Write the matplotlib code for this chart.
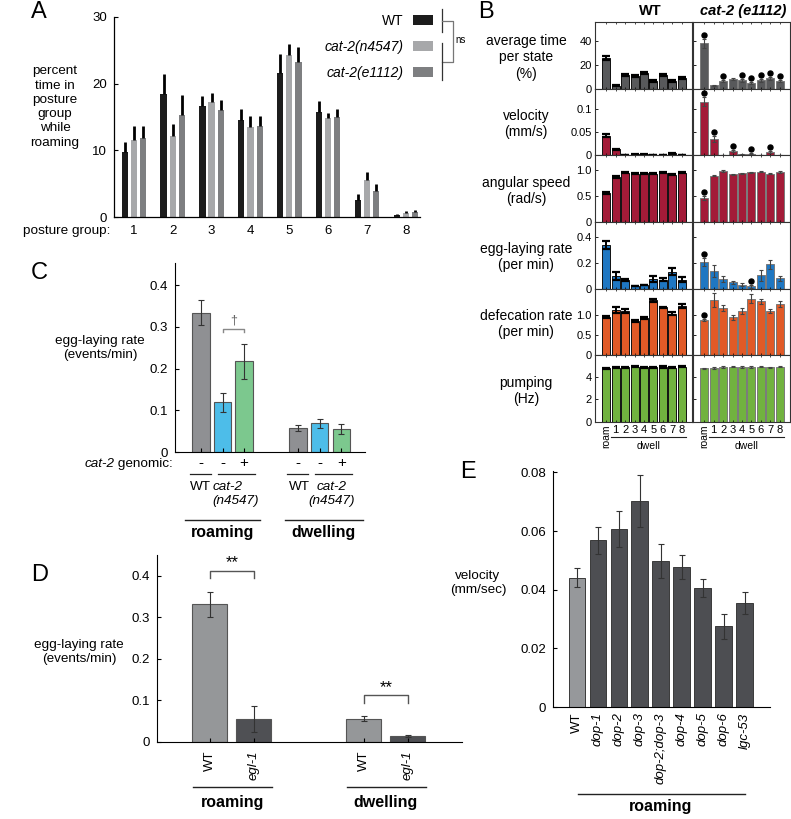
import matplotlib
matplotlib.use('Agg')
import matplotlib.pyplot as plt
import numpy as np
from matplotlib.lines import Line2D
from matplotlib.transforms import blended_transform_factory

plt.rcParams['font.family'] = ['Liberation Sans', 'DejaVu Sans']

# ---------------- DATA ----------------
# Panel A
posture_groups = ['1', '2', '3', '4', '5', '6', '7', '8']
a_strains = ['WT', 'cat-2(n4547)', 'cat-2(e1112)']
a_wt = [9.7, 18.5, 16.6, 14.6, 21.6, 15.7, 2.5, 0.3]
a_wt_err = [1.5, 3.0, 1.5, 1.6, 2.8, 1.7, 1.0, 0.2]
a_n4547 = [11.6, 12.1, 17.3, 13.5, 24.3, 14.8, 5.6, 0.65]
a_n4547_err = [2.0, 1.9, 1.3, 1.6, 1.6, 0.8, 1.2, 0.3]
a_e1112 = [11.9, 15.3, 16.0, 13.6, 23.2, 15.0, 3.9, 0.7]
a_e1112_err = [1.7, 3.0, 1.6, 1.5, 2.3, 1.2, 1.1, 0.3]
a_yticks = [0, 10, 20, 30]

# Panel B
b_states = ['roam', '1', '2', '3', '4', '5', '6', '7', '8']
b_columns = ['WT', 'cat-2 (e1112)']
b_row_labels = ['average time\nper state\n(%)', 'velocity\n(mm/s)', 'angular speed\n(rad/s)',
                'egg-laying rate\n(per min)', 'defecation rate\n(per min)', 'pumping\n(Hz)']

b_time_wt = [25.5, 2.5, 11.5, 11.0, 13.0, 6.5, 11.5, 6.5, 9.2]
b_time_wt_err = [1.8, 0.4, 0.8, 0.8, 0.9, 0.6, 0.8, 0.6, 0.7]
b_time_cat2 = [38.0, 3.0, 6.5, 8.0, 7.2, 4.8, 6.9, 8.6, 6.5]
b_time_cat2_err = [3.5, 0.4, 1.0, 0.7, 1.2, 1.0, 1.0, 1.0, 1.0]
b_time_sig = [1, 0, 1, 0, 1, 1, 1, 1, 1]

b_vel_wt = [0.043, 0.013, 0.001, 0.002, 0.002, 0.001, 0.001, 0.004, 0.001]
b_vel_wt_err = [0.003, 0.001, 0.0003, 0.0003, 0.0003, 0.0003, 0.0003, 0.0005, 0.0003]
b_vel_cat2 = [0.117, 0.036, 0.001, 0.009, 0.002, 0.003, 0.001, 0.008, 0.001]
b_vel_cat2_err = [0.009, 0.007, 0.0003, 0.002, 0.0005, 0.001, 0.0003, 0.002, 0.0003]
b_vel_sig = [1, 1, 0, 1, 0, 1, 0, 1, 0]

b_ang_wt = [0.556, 0.856, 0.94, 0.92, 0.925, 0.92, 0.94, 0.90, 0.94]
b_ang_wt_err = [0.02, 0.015, 0.01, 0.01, 0.01, 0.01, 0.01, 0.01, 0.01]
b_ang_cat2 = [0.46, 0.88, 0.975, 0.91, 0.925, 0.945, 0.955, 0.92, 0.955]
b_ang_cat2_err = [0.04, 0.01, 0.015, 0.01, 0.01, 0.01, 0.01, 0.01, 0.015]
b_ang_sig = [1, 0, 0, 0, 0, 0, 0, 0, 0]

b_egg_wt = [0.338, 0.099, 0.068, 0.021, 0.029, 0.073, 0.068, 0.132, 0.070]
b_egg_wt_err = [0.028, 0.031, 0.010, 0.003, 0.003, 0.021, 0.012, 0.026, 0.018]
b_egg_cat2 = [0.205, 0.135, 0.075, 0.050, 0.031, 0.018, 0.104, 0.190, 0.080]
b_egg_cat2_err = [0.031, 0.045, 0.025, 0.013, 0.010, 0.010, 0.041, 0.035, 0.020]
b_egg_sig = [1, 0, 0, 0, 0, 1, 0, 0, 0]

b_def_wt = [0.96, 1.14, 1.10, 0.856, 0.94, 1.38, 1.20, 1.04, 1.23]
b_def_wt_err = [0.02, 0.08, 0.05, 0.03, 0.03, 0.04, 0.02, 0.04, 0.05]
b_def_cat2 = [0.89, 1.38, 1.18, 0.95, 1.11, 1.415, 1.35, 1.11, 1.28]
b_def_cat2_err = [0.03, 0.17, 0.08, 0.07, 0.08, 0.11, 0.07, 0.06, 0.07]
b_def_sig = [1, 0, 0, 0, 0, 0, 0, 0, 0]

b_pump_wt = [4.76, 4.82, 4.86, 4.90, 4.85, 4.85, 4.87, 4.82, 4.90]
b_pump_wt_err = [0.05, 0.05, 0.05, 0.05, 0.05, 0.05, 0.05, 0.05, 0.05]
b_pump_cat2 = [4.76, 4.78, 4.88, 4.90, 4.87, 4.87, 4.90, 4.84, 4.90]
b_pump_cat2_err = [0.05, 0.10, 0.08, 0.06, 0.06, 0.06, 0.06, 0.06, 0.06]
b_pump_sig = [0, 0, 0, 0, 0, 0, 0, 0, 0]

b_yticks = [[0, 20, 40], [0, 0.05, 0.1], [0, 0.5, 1.0], [0, 0.2, 0.4], [0, 0.5, 1.0], [0, 2, 4]]
b_yticklabels = [['0', '20', '40'], ['0', '0.05', '0.1'], ['0', '0.5', '1.0'],
                 ['0', '0.2', '0.4'], ['0', '0.5', '1.0'], ['0', '2', '4']]

# Panel C
c_groups = ['WT', 'cat-2(n4547)', 'cat-2(n4547) + genomic']
c_genomic = ['-', '-', '+']
c_roam = [0.334, 0.119, 0.217]
c_roam_err = [0.030, 0.023, 0.043]
c_dwell = [0.058, 0.069, 0.055]
c_dwell_err = [0.007, 0.011, 0.013]
c_yticks = [0, 0.1, 0.2, 0.3, 0.4]
c_yticklabels = ['0', '0.1', '0.2', '0.3', '0.4']

# Panel D
d_strains = ['WT', 'egl-1']
d_roam = [0.332, 0.056]
d_roam_err = [0.030, 0.031]
d_dwell = [0.056, 0.015]
d_dwell_err = [0.006, 0.003]

# Panel E
e_strains = ['WT', 'dop-1', 'dop-2', 'dop-3', 'dop-2;dop-3', 'dop-4', 'dop-5', 'dop-6', 'lgc-53']
e_vel = [0.0441, 0.0569, 0.0608, 0.0703, 0.0498, 0.0477, 0.0405, 0.0275, 0.0355]
e_err = [0.0032, 0.0046, 0.0062, 0.0088, 0.0058, 0.0040, 0.0030, 0.0042, 0.0037]
e_yticks = [0, 0.02, 0.04, 0.06, 0.08]
e_yticklabels = ['0', '0.02', '0.04', '0.06', '0.08']

# ---------------- FIGURE ----------------
W, H = 791, 819
fig = plt.figure(figsize=(W / 100, H / 100), dpi=100)


def axpx(l, t, r, b):
    return fig.add_axes([l / W, 1 - b / H, (r - l) / W, (b - t) / H])


def fx(x):
    return x / W


def fy(y):
    return 1 - y / H


def figline(xs, ys, color='black', lw=1.0):
    fig.add_artist(Line2D([fx(v) for v in xs], [fy(v) for v in ys], color=color, lw=lw,
                          transform=fig.transFigure))


def panel_label(s, x, y):
    fig.text(fx(x), fy(y), s, fontsize=17, ha='left', va='center')


TICK = 9
LAB = 9.7

# ---------- Panel A ----------
axA = axpx(114, 17, 420, 217)
xA = np.arange(1, len(posture_groups) + 1)
a_sets = [(a_wt, a_wt_err, '#1c1c1c'), (a_n4547, a_n4547_err, '#a7a8aa'), (a_e1112, a_e1112_err, '#7e7f81')]
a_offsets = [-0.235, 0.0, 0.235]
for (vals, errs, col), off, lab in zip(a_sets, a_offsets, a_strains):
    axA.bar(xA + off, vals, width=0.16, color=col, label=lab)
    axA.errorbar(xA + off, vals, yerr=[np.zeros(len(vals)), errs], fmt='none',
                 ecolor='black', elinewidth=2.0, capsize=0)
axA.set_xlim(0.49, 8.36)
axA.set_ylim(0, 30)
axA.set_yticks(a_yticks)
axA.set_yticklabels([str(v) for v in a_yticks])
axA.set_xticks(xA)
axA.set_xticklabels(posture_groups)
axA.tick_params(axis='x', length=0, pad=6, labelsize=TICK + 0.5)
axA.tick_params(axis='y', direction='in', length=3, pad=5, labelsize=TICK + 0.5)
for s in ['top', 'right']:
    axA.spines[s].set_visible(False)
axA.spines['left'].set_linewidth(0.9)
axA.spines['bottom'].set_linewidth(0.9)
fig.text(fx(110), fy(231), 'posture group:', ha='right', va='center', fontsize=LAB)
fig.text(fx(55), fy(107), 'percent\ntime in\nposture\ngroup\nwhile\nroaming', ha='center',
         va='center', fontsize=LAB, linespacing=1.25)
leg = axA.legend(markerfirst=False, frameon=False, loc='upper right',
                 bbox_to_anchor=(fx(433), fy(14)), bbox_transform=fig.transFigure,
                 handlelength=1.45, handleheight=0.75, labelspacing=0.85, fontsize=10,
                 borderaxespad=0, borderpad=0, handletextpad=0.7)
for t in leg.get_texts()[1:]:
    t.set_fontstyle('italic')
figline([442, 442], [9, 32], color='#333333', lw=0.9)
figline([442, 453, 453, 442], [21, 21, 62, 62], color='#777777', lw=0.9)
figline([442, 442], [43, 80], color='#333333', lw=0.9)
fig.text(fx(455), fy(40), 'ns', fontsize=7, ha='left', va='center')
panel_label('A', 31, 12)

# ---------- Panel B ----------
b_rows = [
    (b_time_wt, b_time_wt_err, b_time_cat2, b_time_cat2_err, b_time_sig, '#58595b', 56),
    (b_vel_wt, b_vel_wt_err, b_vel_cat2, b_vel_cat2_err, b_vel_sig, '#a31b38', 0.145),
    (b_ang_wt, b_ang_wt_err, b_ang_cat2, b_ang_cat2_err, b_ang_sig, '#a31b38', 1.27),
    (b_egg_wt, b_egg_wt_err, b_egg_cat2, b_egg_cat2_err, b_egg_sig, '#1f77c2', 0.515),
    (b_def_wt, b_def_wt_err, b_def_cat2, b_def_cat2_err, b_def_sig, '#e15a27', 1.67),
    (b_pump_wt, b_pump_wt_err, b_pump_cat2, b_pump_cat2_err, b_pump_sig, '#71b23f', 5.9),
]
b_cols_px = [(595, 692), (693, 790)]
b_top, b_bot = 22, 422
rh = (b_bot - b_top) / len(b_rows)
xB = np.arange(len(b_states))
for i, (wv, we, cv, ce, sig, col, ymax) in enumerate(b_rows):
    for j in range(2):
        l, r = b_cols_px[j]
        ax = axpx(l, b_top + i * rh, r, b_top + (i + 1) * rh)
        vals, errs = (wv, we) if j == 0 else (cv, ce)
        edge = '#111111' if j == 0 else '#7a7a7a'
        ax.bar(xB, vals, width=0.85, color=col, edgecolor=edge, linewidth=0.7)
        if j == 0:
            ax.errorbar(xB, vals, yerr=errs, fmt='none', ecolor='black', elinewidth=1.4,
                        capsize=2.6, capthick=1.6)
        else:
            ax.errorbar(xB, vals, yerr=errs, fmt='none', ecolor='#444444', elinewidth=0.8,
                        capsize=1.5, capthick=0.8)
            sig_x = [xx for xx, s in zip(xB, sig) if s]
            sig_y = [v + e + 0.06 * ymax for v, e, s in zip(vals, errs, sig) if s]
            ax.plot(sig_x, sig_y, 'o', color='black', markersize=3.6, linestyle='none')
        ax.set_xlim(-1.2, 9.1)
        ax.set_ylim(0, ymax)
        ax.set_yticks(b_yticks[i])
        if j == 0:
            ax.set_yticklabels(b_yticklabels[i])
        else:
            ax.set_yticklabels([])
        ax.tick_params(axis='y', direction='in', length=2, pad=2.5, labelsize=8, width=0.6)
        ax.set_xticks(xB)
        ax.tick_params(axis='x', direction='in', length=1.5, width=0.5, top=True, bottom=True)
        for s in ax.spines.values():
            s.set_linewidth(0.8)
            s.set_color('#333333')
        if i == len(b_rows) - 1:
            ax.set_xticklabels(b_states)
            ax.tick_params(axis='x', labelsize=8, pad=2)
            lbls = ax.get_xticklabels()
            lbls[0].set_rotation(90)
            lbls[0].set_fontsize(7.5)
            tr = blended_transform_factory(ax.transData, fig.transFigure)
            ax.add_artist(Line2D([0.55, 8.45], [fy(437), fy(437)], color='#222222', lw=0.8,
                                 transform=tr, clip_on=False))
            ax.text(4.5, fy(446), 'dwell', transform=tr, ha='center', va='center', fontsize=7.5)
        else:
            ax.set_xticklabels([])
    fig.text(fx(526), fy(b_top + (i + 0.5) * rh + 2), b_row_labels[i], ha='center', va='center',
             fontsize=10, linespacing=1.2)
fig.text(fx(650), fy(11), b_columns[0], ha='center', va='center', fontsize=10.5, fontweight='bold')
fig.text(fx(743), fy(11), b_columns[1], ha='center', va='center', fontsize=10.5, fontweight='bold',
         style='italic')
panel_label('B', 478, 12)

# ---------- Panel C ----------
axC = axpx(175, 263, 365, 452)
xC_roam = np.array([0.0, 1.0, 2.0])
xC_dwell = np.array([4.5, 5.5, 6.5])
c_colors = ['#8f9093', '#4dbde9', '#7cc88e']
axC.bar(xC_roam, c_roam, width=0.8, color=c_colors, edgecolor='#555555', linewidth=0.8)
axC.bar(xC_dwell, c_dwell, width=0.8, color=c_colors, edgecolor='#555555', linewidth=0.8)
axC.errorbar(np.concatenate([xC_roam, xC_dwell]), c_roam + c_dwell, yerr=c_roam_err + c_dwell_err,
             fmt='none', ecolor='#333333', elinewidth=0.8, capsize=2, capthick=0.8)
axC.set_xlim(-1.2, 7.6)
axC.set_ylim(0, 0.453)
axC.set_yticks(c_yticks)
axC.set_yticklabels(c_yticklabels)
axC.tick_params(axis='y', direction='in', length=3, pad=5, labelsize=TICK + 0.5)
axC.set_xticks(np.concatenate([xC_roam, xC_dwell]))
axC.set_xticklabels(c_genomic + c_genomic)
axC.tick_params(axis='x', direction='in', length=3, pad=3, labelsize=11)
for s in ['top', 'right']:
    axC.spines[s].set_visible(False)
# dagger bracket
yb = max(c_roam[2] + c_roam_err[2], c_roam[1] + c_roam_err[1]) + 0.036
axC.plot([xC_roam[1], xC_roam[1], xC_roam[2], xC_roam[2]], [yb - 0.009, yb, yb, yb - 0.009],
         color='#888888', lw=1.0)
axC.text(1.5, yb + 0.006, '\u2020', ha='center', va='bottom', fontsize=9, color='#666666')
trC = blended_transform_factory(axC.transData, fig.transFigure)
gtxt = fig.text(fx(173), fy(464), ' genomic:', ha='right', va='center', fontsize=LAB)
fig.canvas.draw()
bb = gtxt.get_window_extent()
fig.text(bb.x0 / W, fy(464), 'cat-2', ha='right', va='center', fontsize=LAB, style='italic')
for x0, x1 in [(-0.5, 0.47), (0.8, 2.5), (4.0, 4.97), (5.3, 7.0)]:
    axC.add_artist(Line2D([x0, x1], [fy(474), fy(474)], color='#222222', lw=0.9, transform=trC,
                          clip_on=False))
axC.text(0.0, fy(487), 'WT', transform=trC, ha='center', va='center', fontsize=LAB)
axC.text(0.52, fy(494), 'cat-2\n(n4547)', transform=trC, ha='left', va='center', fontsize=LAB,
         style='italic', linespacing=1.2)
axC.text(4.55, fy(487), 'WT', transform=trC, ha='center', va='center', fontsize=LAB)
axC.text(6.05, fy(494), 'cat-2\n(n4547)', transform=trC, ha='center', va='center', fontsize=LAB,
         style='italic', linespacing=1.2)
for x0, x1, xc, lab in [(-0.74, 2.74, 1.0, 'roaming'), (3.9, 7.5, 5.7, 'dwelling')]:
    axC.add_artist(Line2D([x0, x1], [fy(520), fy(520)], color='#222222', lw=1.0, transform=trC,
                          clip_on=False))
    axC.text(xc, fy(532), lab, transform=trC, ha='center', va='center', fontsize=11.5,
             fontweight='bold')
fig.text(fx(100), fy(348), 'egg-laying rate\n(events/min)', ha='center', va='center', fontsize=LAB,
         linespacing=1.2)
panel_label('C', 31, 273)

# ---------- Panel D ----------
axD = axpx(157, 555, 462, 742)
xD_roam = np.array([0.0, 1.0])
xD_dwell = np.array([3.5, 4.5])
d_colors = ['#959799', '#4f5054']
axD.bar(xD_roam, d_roam, width=0.8, color=d_colors, edgecolor='#555555', linewidth=0.8)
axD.bar(xD_dwell, d_dwell, width=0.8, color=d_colors, edgecolor='#555555', linewidth=0.8)
axD.errorbar(np.concatenate([xD_roam, xD_dwell]), d_roam + d_dwell, yerr=d_roam_err + d_dwell_err,
             fmt='none', ecolor='#333333', elinewidth=0.8, capsize=2, capthick=0.8)
axD.set_xlim(-1.2, 5.73)
axD.set_ylim(0, 0.45)
axD.set_yticks(c_yticks)
axD.set_yticklabels(c_yticklabels)
axD.tick_params(axis='y', direction='in', length=3, pad=5, labelsize=TICK + 0.5)
axD.set_xticks(np.concatenate([xD_roam, xD_dwell]))
axD.set_xticklabels(d_strains + d_strains, rotation=90)
axD.tick_params(axis='x', direction='in', length=3, pad=6, labelsize=TICK + 0.5)
for t in axD.get_xticklabels():
    if t.get_text() != 'WT':
        t.set_fontstyle('italic')
for s in ['top', 'right']:
    axD.spines[s].set_visible(False)
for xs, vals, errs in [(xD_roam, d_roam, d_roam_err), (xD_dwell, d_dwell, d_dwell_err)]:
    yb = max(v + e for v, e in zip(vals, errs)) + 0.05
    axD.plot([xs[0], xs[0], xs[1], xs[1]], [yb - 0.017, yb, yb, yb - 0.017], color='#555555', lw=1.0)
    axD.text((xs[0] + xs[1]) / 2, yb + 0.002, '**', ha='center', va='bottom', fontsize=12)
trD = blended_transform_factory(axD.transData, fig.transFigure)
for x0, x1, xc, lab in [(-0.39, 1.41, 0.52, 'roaming'), (3.11, 4.91, 4.0, 'dwelling')]:
    axD.add_artist(Line2D([x0, x1], [fy(787), fy(787)], color='#222222', lw=1.0, transform=trD,
                          clip_on=False))
    axD.text(xc, fy(802), lab, transform=trD, ha='center', va='center', fontsize=11.5,
             fontweight='bold')
fig.text(fx(79), fy(652), 'egg-laying rate\n(events/min)', ha='center', va='center', fontsize=LAB,
         linespacing=1.2)
panel_label('D', 31, 575)

# ---------- Panel E ----------
axE = axpx(553, 471, 770, 707)
xE = np.arange(len(e_strains))
e_colors = ['#96989b'] + ['#4d4e52'] * (len(e_strains) - 1)
axE.bar(xE, e_vel, width=0.8, color=e_colors, edgecolor='#3a3a3a', linewidth=0.7)
axE.errorbar(xE, e_vel, yerr=e_err, fmt='none', ecolor='#333333', elinewidth=0.8, capsize=2,
             capthick=0.8)
axE.set_xlim(-1.14, 9.2)
axE.set_ylim(0, 0.0805)
axE.set_yticks(e_yticks)
axE.set_yticklabels(e_yticklabels)
axE.tick_params(axis='y', direction='in', length=3, pad=5, labelsize=TICK + 0.5)
axE.set_xticks(xE)
axE.set_xticklabels(e_strains, rotation=90)
axE.tick_params(axis='x', length=0, pad=4, labelsize=TICK + 0.5)
for t in axE.get_xticklabels():
    if t.get_text() != 'WT':
        t.set_fontstyle('italic')
for s in ['top', 'right']:
    axE.spines[s].set_visible(False)
trE = blended_transform_factory(axE.transData, fig.transFigure)
axE.add_artist(Line2D([0.05, 8.0], [fy(794), fy(794)], color='#222222', lw=1.0, transform=trE,
                      clip_on=False))
axE.text(4.0, fy(806), 'roaming', transform=trE, ha='center', va='center', fontsize=11.5,
         fontweight='bold')
fig.text(fx(478), fy(583), 'velocity\n(mm/sec)', ha='center', va='center', fontsize=LAB,
         linespacing=1.2)
panel_label('E', 460, 472)

fig.savefig('out.png', dpi=100)
